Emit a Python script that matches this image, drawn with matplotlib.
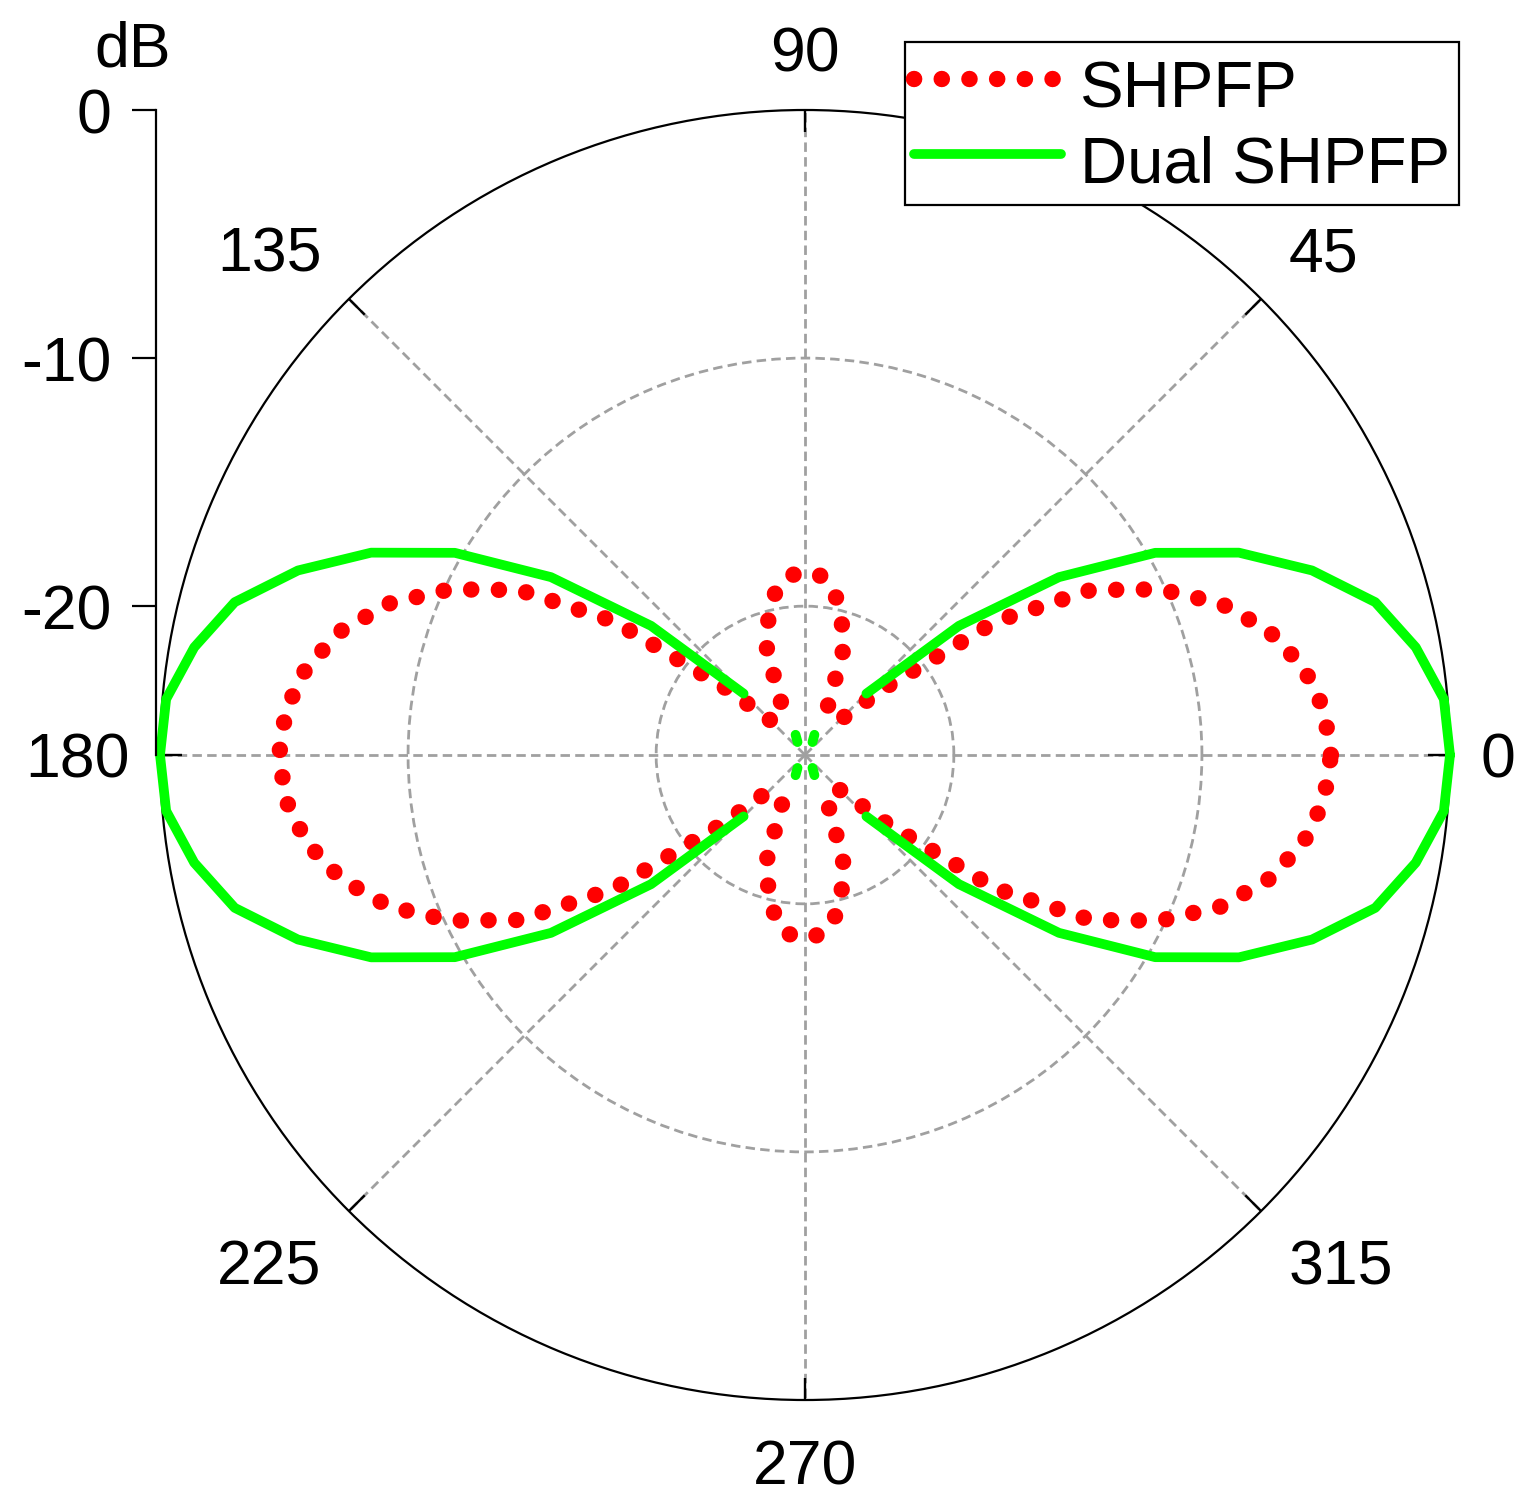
import numpy as np
import matplotlib
matplotlib.use("Agg")
import matplotlib.pyplot as plt

plt.rcParams['font.family'] = ['Liberation Sans', 'DejaVu Sans']

nan = np.nan

# angle in degrees, sampled every 5 deg
angle_deg = list(range(0, 361, 5))

# SHPFP (dB); nan = below the -26 dB floor, not drawn
shpfp = [-4.8, -5.0, -5.6, -6.65, -8.15, -10.2, -12.7, -16.6, -21.7, -24.0, nan, nan, nan,
         -23.8, -21.5, -20.3, -19.25, -18.75, -18.6,
         -18.75, -19.25, -20.3, -21.5, -23.8, nan, nan, nan,
         -24.0, -21.7, -16.6, -12.7, -10.2, -8.15, -6.65, -5.6, -5.0, -4.8,
         -5.0, -5.6, -6.65, -8.15, -10.2, -12.7, -16.6, -21.7, -24.0, nan, nan, nan,
         -23.8, -21.5, -20.3, -19.25, -18.75, -18.6,
         -18.75, -19.25, -20.3, -21.5, -23.8, nan, nan, nan,
         -24.0, -21.7, -16.6, -12.7, -10.2, -8.15, -6.65, -5.6, -5.0, -4.8]

# Dual SHPFP (dB)
dual_shpfp = [0.0, -0.15, -1.0, -2.2, -4.25, -6.7, -9.7, -13.5, -17.9, -22.5, nan, nan,
              -25.4, -25.1, nan, nan, nan, nan, nan,
              nan, nan, nan, nan, -25.1, -25.4, nan, nan,
              -22.5, -17.9, -13.5, -9.7, -6.7, -4.25, -2.2, -1.0, -0.15, 0.0,
              -0.15, -1.0, -2.2, -4.25, -6.7, -9.7, -13.5, -17.9, -22.5, nan, nan,
              -25.4, -25.1, nan, nan, nan, nan, nan,
              nan, nan, nan, nan, -25.1, -25.4, nan, nan,
              -22.5, -17.9, -13.5, -9.7, -6.7, -4.25, -2.2, -1.0, -0.15, 0.0]

theta_ticks = [0, 45, 90, 135, 180, 225, 270, 315]
theta_labels = ['0', '45', '90', '135', '180', '225', '270', '315']
r_ticks = [-20, -10, 0]
r_tick_labels = ['-20', '-10', '0']
r_min, r_max = -26, 0

W, H = 1529, 1505
fig = plt.figure(figsize=(W / 100, H / 100), dpi=100)

# polar plot area: centre and radius in pixels
cx, cy, R = 805, 755, 645
ax = fig.add_axes([(cx - R) / W, (H - cy - R) / H, 2 * R / W, 2 * R / H], projection='polar')

theta = np.deg2rad(angle_deg)
ax.plot(theta, shpfp, color='#ff0000', lw=11.8, linestyle=(0, (0.01, 1.68)),
        dash_capstyle='round', label='SHPFP', clip_on=False, zorder=3)
ax.plot(theta, dual_shpfp, color='#00ff00', lw=7.0, solid_capstyle='round',
        label='Dual SHPFP', clip_on=False, zorder=4)

ax.set_ylim(r_min, r_max)
ax.set_yticks([-20, -10])
ax.set_yticklabels([])
ax.set_xticks(np.deg2rad(theta_ticks))
ax.set_xticklabels([])
ax.grid(True, color='#a0a0a0', lw=2, linestyle=(0, (3.4, 1.9)))
ax.spines['polar'].set_linewidth(1.6)
ax.tick_params(axis='both', length=0)

# inward angle ticks on the outer circle
tick_len = 0.9  # dB
for a in theta_ticks:
    ax.plot([np.deg2rad(a)] * 2, [r_max - tick_len, r_max], color='black', lw=1.7,
            solid_capstyle='butt', zorder=2.5)

# angle labels outside the circle
for a, lbl in zip(theta_ticks, theta_labels):
    c, s = np.cos(np.deg2rad(a)), np.sin(np.deg2rad(a))
    ha = 'left' if c > 0.3 else ('right' if c < -0.3 else 'center')
    va = 'baseline' if s > 0.3 else ('top' if s < -0.3 else 'center_baseline')
    gap = 22 if abs(s) < 0.3 else 28
    ax.annotate(lbl, xy=(np.deg2rad(a), r_max), xytext=(gap * c, gap * s),
                textcoords='offset points', ha=ha, va=va, fontsize=45,
                annotation_clip=False)

leg = ax.legend(loc='upper right', bbox_to_anchor=(1459 / W, 1 - 42 / H),
                bbox_transform=fig.transFigure, fontsize=47, frameon=True,
                fancybox=False, edgecolor='black', framealpha=1, borderpad=0.13,
                labelspacing=0.05, handleheight=1.3, handlelength=2.25,
                handletextpad=0.3, borderaxespad=0)
leg.get_frame().set_linewidth(1.6)
leg.set_zorder(10)

# separate radial dB scale on the left
pos = ax.get_position()
lax = fig.add_axes([pos.x0 - 4 / W, pos.y0 + pos.height / 2, 0.0005, pos.height / 2])
lax.set_ylim(r_min, r_max)
lax.set_yticks(r_ticks)
lax.set_yticklabels(r_tick_labels, fontsize=45)
lax.tick_params(axis='y', direction='out', length=17, width=1.6, pad=15)
lax.set_xticks([])
for side in ['top', 'right', 'bottom']:
    lax.spines[side].set_visible(False)
lax.spines['left'].set_linewidth(1.6)
lax.patch.set_visible(False)
lax.annotate('dB', xy=(0, 1), xycoords='axes fraction', xytext=(-17, 31),
             textcoords='offset points', ha='center', va='baseline', fontsize=45)

fig.savefig('out.png', dpi=100)
